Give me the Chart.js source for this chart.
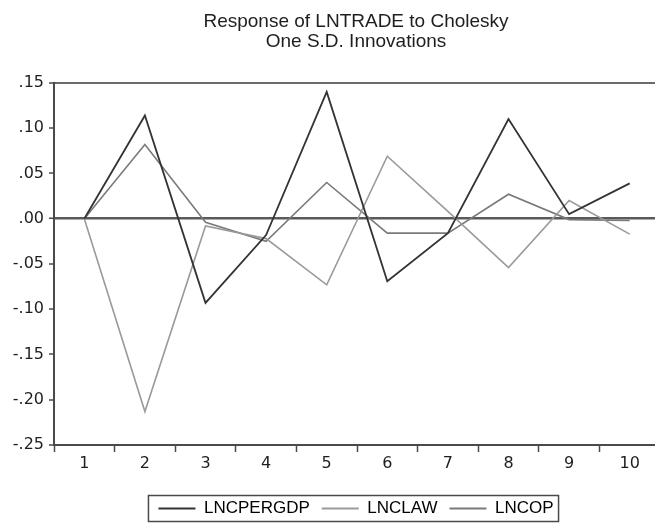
<!DOCTYPE html>
<html>
<head>
<meta charset="utf-8">
<script src="https://cdn.jsdelivr.net/npm/chart.js@4/dist/chart.umd.min.js"></script>
<style>
    html, body { margin: 0; padding: 0; background: #ffffff; overflow: hidden; }
    canvas { display: block; }
</style>
</head>
<body>
<canvas id="irfChart" width="660" height="527"></canvas>
<script>
// Periods and responses
const periods = ['1', '2', '3', '4', '5', '6', '7', '8', '9', '10'];
const lncpergdp = [0, 0.114, -0.093, -0.018, 0.140, -0.069, -0.016, 0.110, 0.005, 0.039];
const lnclaw = [0, -0.213, -0.008, -0.022, -0.073, 0.069, 0.008, -0.054, 0.020, -0.017];
const lncop = [0, 0.082, -0.004, -0.025, 0.040, -0.016, -0.016, 0.027, -0.001, -0.002];
const titleLines = ['Response of LNTRADE to Cholesky', 'One S.D. Innovations'];

const darkColor = '#333333';
const lawColor = '#9a9a9a';
const copColor = '#7a7a7a';
const axisColor = '#4a4a4a';
const textColor = '#1e1e1e';

// Title and legend are centred over the plot area, not the whole canvas
const CENTER_SHIFT = 52;

const centerOnPlot = {
    id: 'centerOnPlot',
    afterUpdate(chart) {
        if (chart.titleBlock) {
            chart.titleBlock.left += CENTER_SHIFT;
        }
        const legend = chart.legend;
        if (legend) {
            legend.left += CENTER_SHIFT;
            (legend.legendHitBoxes || []).forEach((box) => { box.left += CENTER_SHIFT / 2; });
        }
    }
};

// Frame around the legend, like the EViews output
const legendFrame = {
    id: 'legendFrame',
    afterDraw(chart) {
        const boxes = chart.legend.legendHitBoxes;
        if (!boxes || !boxes.length) return;
        const first = boxes[0];
        const last = boxes[boxes.length - 1];
        const left = first.left - 10;
        const right = last.left + last.width + 5;
        const top = first.top - 4.5;
        const bottom = first.top + first.height + 4.5;
        const ctx = chart.ctx;
        ctx.save();
        ctx.strokeStyle = axisColor;
        ctx.lineWidth = 1.5;
        ctx.strokeRect(left, top, right - left, bottom - top);
        ctx.restore();
    }
};

function makeSet(label, data, color, width) {
    return {
        label: label,
        data: data,
        borderColor: color,
        backgroundColor: color,
        borderWidth: width,
        pointRadius: 0,
        tension: 0,
        fill: false
    };
}

const ctx = document.getElementById('irfChart').getContext('2d');
new Chart(ctx, {
    type: 'line',
    data: {
        labels: periods,
        datasets: [
            makeSet('LNCPERGDP', lncpergdp, darkColor, 1.8),
            makeSet('LNCLAW', lnclaw, lawColor, 1.6),
            makeSet('LNCOP', lncop, copColor, 1.6)
        ]
    },
    options: {
        responsive: false,
        animation: false,
        layout: {
            padding: 0
        },
        scales: {
            x: {
                offset: true,
                grid: {
                    offset: true,
                    drawOnChartArea: false,
                    tickLength: 7,
                    tickColor: axisColor,
                    tickWidth: 1.5
                },
                border: { color: axisColor, width: 2 },
                ticks: {
                    padding: 2,
                    color: textColor,
                    font: { family: 'DejaVu Sans', size: 16 }
                },
                afterFit: (scale) => { scale.height = 43; }
            },
            y: {
                min: -0.25,
                max: 0.15,
                grid: {
                    color: (c) => {
                        const v = c.tick ? c.tick.value : null;
                        if (v === null) return 'rgba(0,0,0,0)';
                        if (Math.abs(v) < 1e-9) return '#5a5a5a';
                        if (v > 0.149) return '#6a6a6a';
                        return 'rgba(0,0,0,0)';
                    },
                    lineWidth: (c) => {
                        const v = c.tick ? c.tick.value : 0;
                        return Math.abs(v) < 1e-9 ? 2.5 : 2;
                    },
                    tickLength: 5,
                    tickColor: axisColor,
                    tickWidth: 1.5
                },
                border: { color: axisColor, width: 2 },
                ticks: {
                    stepSize: 0.05,
                    padding: 5,
                    color: textColor,
                    font: { family: 'DejaVu Sans', size: 16 },
                    callback: (value) => value.toFixed(2).replace('0.', '.')
                },
                afterFit: (scale) => { scale.width = 54; }
            }
        },
        plugins: {
            title: {
                display: true,
                text: titleLines,
                color: textColor,
                font: { family: 'Liberation Sans', size: 19, weight: 'normal', lineHeight: 1.05 },
                padding: { top: 12, bottom: 31 }
            },
            legend: {
                position: 'bottom',
                labels: {
                    color: textColor,
                    font: { family: 'Liberation Sans', size: 17 },
                    boxWidth: 37,
                    boxHeight: 2,
                    padding: 12,
                    generateLabels: (chart) => chart.data.datasets.map((ds, i) => ({
                        text: ds.label,
                        fillStyle: ds.borderColor,
                        strokeStyle: ds.borderColor,
                        lineWidth: 0,
                        hidden: false,
                        datasetIndex: i
                    }))
                }
            },
            tooltip: { enabled: false }
        }
    },
    plugins: [centerOnPlot, legendFrame]
});
</script>
</body>
</html>
